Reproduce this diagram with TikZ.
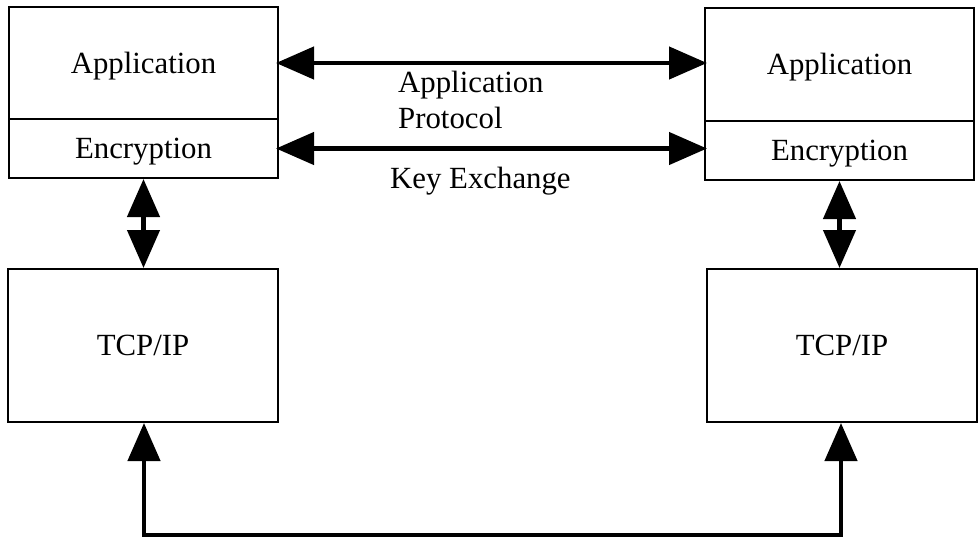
\documentclass[tikz,border=0pt]{standalone}
\usepackage{fontspec}
\setmainfont{Liberation Serif}
\usetikzlibrary{arrows.meta}
\tikzset{
  box/.style={draw, line width=2pt, rectangle, inner sep=0pt, text height=20pt, text depth=0pt},
  lbl/.style={inner sep=0pt, anchor=base west},
  heavy/.style={line width=4.5pt, {Triangle[length=38pt,width=32pt]}-{Triangle[length=38pt,width=32pt]}},
  overlap/.style={shorten <=-3pt, shorten >=-3pt},
}
\begin{document}
\begin{tikzpicture}[x=1pt,y=-1pt,font=\fontsize{30.8}{35}\selectfont]
\useasboundingbox (0,0) rectangle (980,544);
% left stack
\node[box, minimum width=269pt, minimum height=112pt] (appL) at (143.5,63) {Application};
\node[box, minimum width=269pt, minimum height=59pt] (encL) at (143.5,148.5) {Encryption};
\node[box, minimum width=270pt, minimum height=153pt] (tcpL) at (143,345.5) {TCP/IP};
% right stack
\node[box, minimum width=269pt, minimum height=113pt] (appR) at (839.5,64.5) {Application};
\node[box, minimum width=269pt, minimum height=59pt] (encR) at (839.5,150.5) {Encryption};
\node[box, minimum width=270pt, minimum height=153pt] (tcpR) at (842,345.5) {TCP/IP};
% labels
\node[lbl] (lap) at (398,92.7) {Application};
\node[lbl] (lpr) at (398,128) {Protocol};
\node[lbl] (lke) at (390,188) {Key Exchange};
% connectors
\draw[heavy, overlap] (appL.east) -- (appL.east -| appR.west);
\draw[heavy, overlap] (encL.east) -- (encL.east -| encR.west);
\draw[heavy] (encL.south) -- (encL.south |- tcpL.north);
\draw[heavy] (encR.south) -- (encR.south |- tcpR.north);
\coordinate (bl) at (144,535);
\coordinate (br) at (841,535);
\draw[heavy, line join=miter] (tcpL.south -| bl) -- (bl) -- (br) -- (tcpR.south -| br);
\end{tikzpicture}
\end{document}
